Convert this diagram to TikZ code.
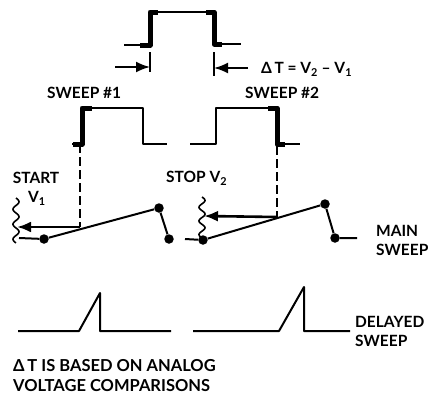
\documentclass[tikz,border=0pt]{standalone}
\usepackage{fontspec}
\setmainfont{Lato}
\usetikzlibrary{arrows.meta}
\tikzset{
    wave/.style={line width=2pt, line join=round},
    heavy/.style={line width=5pt, line join=round},
    dot/.style={circle, fill=black, inner sep=0pt, minimum size=9.5pt},
    lbl/.style={font=\bfseries\fontsize{15.5}{19}\selectfont, align=left, inner sep=0pt},
    probe/.style={line width=2.6pt, -{Latex[length=14pt, width=11pt]}},
    mark line/.style={line width=2pt, -{Latex[length=14pt, width=11pt]}},
}
\begin{document}
\begin{tikzpicture}[x=1pt, y=-1pt]
    \useasboundingbox (0,0) rectangle (429,394);

    % Difference pulse
    \draw[wave] (124,45) -- (150,45) -- (150,12) -- (214,12) -- (214,44) -- (241,44);
    \draw[heavy] (140,45) -- (150,45) -- (150,12) -- (158,12);
    \draw[heavy] (206,12) -- (214,12) -- (214,44) -- (222,44);

    % Interval marks
    \coordinate (tickA) at (150,52);
    \coordinate (tickB) at (150,72);
    \coordinate (tickC) at (213.5,52);
    \coordinate (tickD) at (213.5,76);
    \coordinate (markA) at (115,67);
    \coordinate (markB) at (248,68);
    \draw[wave] (tickA) -- (tickB);
    \draw[wave] (tickC) -- (tickD);
    \draw[mark line] (markA) -- (150,67);
    \draw[mark line] (markB) -- (214,68);
    \node[lbl, anchor=west] (delta) at (261,69) {Δ\,T = V\textsubscript{2} – V\textsubscript{1}};

    % Sweep pulses
    \node[lbl, anchor=west] (sweepA) at (47,93) {SWEEP \#1};
    \node[lbl, anchor=west] (sweepB) at (245,93) {SWEEP \#2};
    \draw[wave] (72,144) -- (82,144) -- (82,108) -- (143,108) -- (143,144) -- (167,144);
    \draw[heavy] (73,144) -- (82,144) -- (82,108) -- (92,108);
    \draw[wave] (190,144) -- (216,144) -- (216,108) -- (277,108) -- (277,144) -- (300,144);
    \draw[heavy] (268,108) -- (277,108) -- (277,144) -- (285,144);

    % Main sweep
    \node[dot] (startA) at (44,239) {};
    \node[dot] (peakA) at (159,208) {};
    \node[dot] (endA) at (169,239) {};
    \node[dot] (startB) at (203,240) {};
    \node[dot] (peakB) at (325,204) {};
    \node[dot] (endB) at (335,238) {};
    \coordinate (leadA) at (19,238);
    \coordinate (leadB) at (185,239);
    \coordinate (tailB) at (357,238);
    \draw[wave] (leadA) -- (startA) -- (peakA) -- (endA);
    \draw[wave] (leadB) -- (startB) -- (peakB) -- (endB) -- (tailB);

    % Comparison voltages
    \foreach \xc/\ya/\yb in {16/198/243, 202/197/238} {
        \draw[line width=1.6pt, domain=0:1, samples=60, variable=\t, smooth]
            plot ({\xc + 3*sin(1080*\t)}, {\ya + (\yb-\ya)*\t});
    }
    \coordinate (pickA) at (80,227);
    \coordinate (pickB) at (277,217);
    \coordinate (tapA) at (17,227);
    \coordinate (tapB) at (204,216);
    \draw[probe] (pickA) -- (tapA);
    \draw[probe] (pickB) -- (tapB);
    \draw[wave, dash pattern=on 9pt off 4pt] (80,144) -- (pickA);
    \draw[wave, dash pattern=on 9pt off 4pt] (277,146) -- (pickB);
    \node[lbl] (start) at (36,178) {START};
    \node[lbl] (voltA) at (37,198) {V\textsubscript{1}};
    \node[lbl, anchor=west] (stop) at (166,178) {STOP V\textsubscript{2}};
    \node[lbl, anchor=west] (mainlbl) at (376,240.5) {MAIN\\SWEEP};

    % Delayed sweep
    \draw[wave] (18,331) -- (79,331) -- (100,293) -- (100,331) -- (171,331);
    \draw[wave] (193,331) -- (279,331) -- (304,287) -- (304,331) -- (350,331);
    \node[lbl, anchor=west] (delayed) at (355,331.5) {DELAYED\\SWEEP};

    % Note
    \node[lbl, anchor=west, font=\bfseries\fontsize{16.5}{19.5}\selectfont] (note) at (13,375.5)
        {Δ\,T IS BASED ON ANALOG\\VOLTAGE COMPARISONS};
\end{tikzpicture}
\end{document}
